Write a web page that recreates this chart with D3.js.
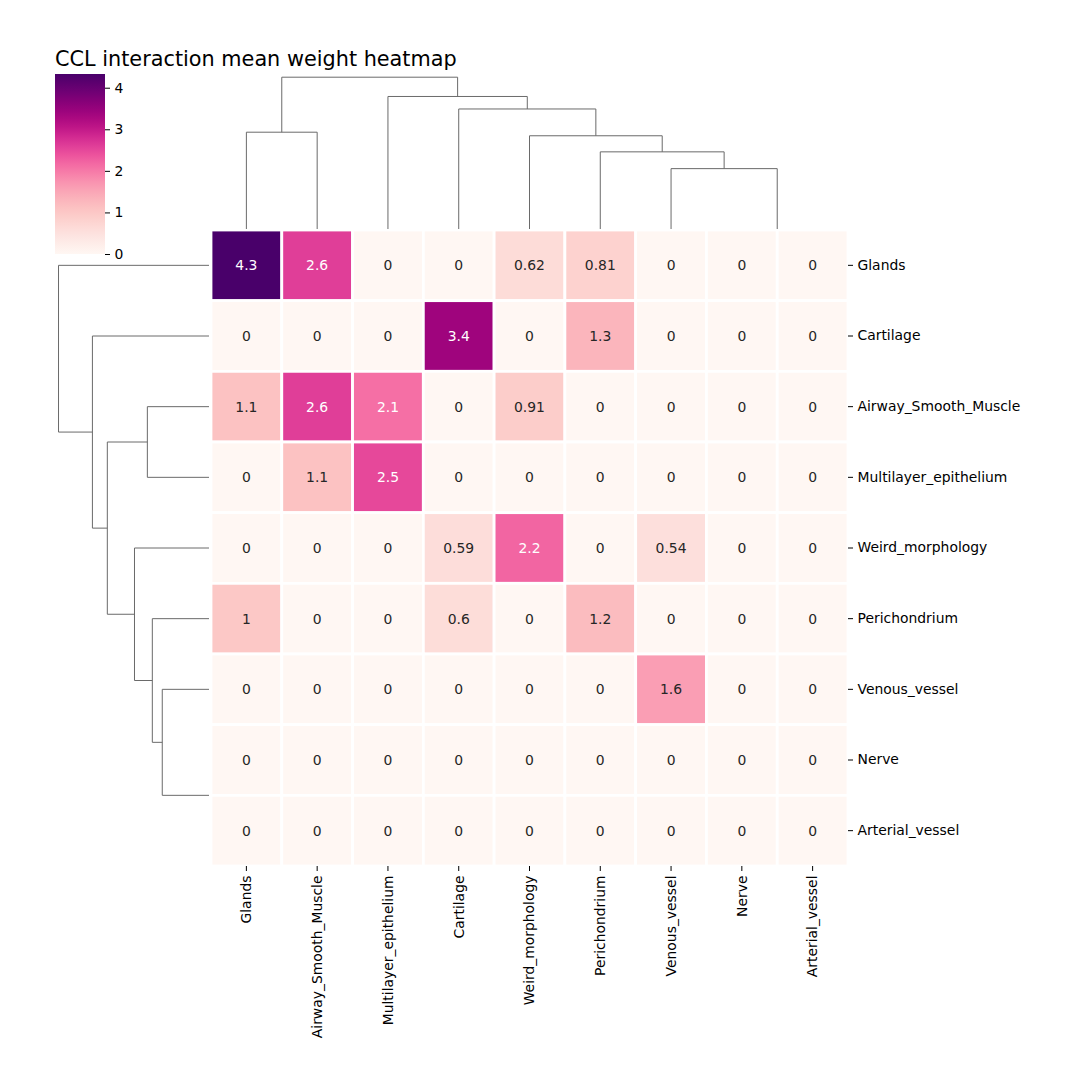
<!DOCTYPE html>
<html><head><meta charset="utf-8">
<script src="https://cdn.jsdelivr.net/npm/d3@7"></script>
<style>body{margin:0;background:#fff}svg{display:block;font-family:"DejaVu Sans",sans-serif}</style>
</head><body><svg id="c" width="1069" height="1089"></svg>
<script>
const title = "CCL interaction mean weight heatmap";
const rowLabels = ["Glands","Cartilage","Airway_Smooth_Muscle","Multilayer_epithelium","Weird_morphology","Perichondrium","Venous_vessel","Nerve","Arterial_vessel"];
const colLabels = ["Glands","Airway_Smooth_Muscle","Multilayer_epithelium","Cartilage","Weird_morphology","Perichondrium","Venous_vessel","Nerve","Arterial_vessel"];
const values = [
 [4.33,2.6,0,0,0.62,0.81,0,0,0],
 [0,0,0,3.4,0,1.3,0,0,0],
 [1.1,2.6,2.1,0,0.91,0,0,0,0],
 [0,1.1,2.5,0,0,0,0,0,0],
 [0,0,0,0.59,2.2,0,0.54,0,0],
 [1.0,0,0,0.6,0,1.2,0,0,0],
 [0,0,0,0,0,0,1.6,0,0],
 [0,0,0,0,0,0,0,0,0],
 [0,0,0,0,0,0,0,0,0]];
const colorbarTicks = [0,1,2,3,4];
// linkage: [childA, childB, height]; leaves 0..8 in display order, new nodes numbered from 9
const rowLinkage = [[7,8,0],[6,9,1.60],[5,10,1.94],[2,3,2.11],[4,11,2.55],[12,13,3.48],[1,14,3.99],[0,15,5.15]];
const colLinkage = [[7,8,0],[6,9,1.69],[5,10,2.16],[4,11,2.61],[0,1,2.71],[3,12,3.36],[2,14,3.71],[13,15,4.25]];

const svg = d3.select("#c");
const X0 = 211, X1 = 848, Y0 = 230, Y1 = 866;
const vmax = d3.max(values.flat());
const x = d3.scaleBand().domain(d3.range(colLabels.length)).range([X0, X1]);
const y = d3.scaleBand().domain(d3.range(rowLabels.length)).range([Y0, Y1]);
const color = d3.scaleSequential(d3.interpolateRdPu).domain([0, vmax]);
const fmt = d3.format(".2~g");

function lum(c){
  const r = d3.rgb(c);
  const f = v => { v/=255; return v <= 0.03928 ? v/12.92 : Math.pow((v+0.055)/1.055, 2.4); };
  return 0.2126*f(r.r) + 0.7152*f(r.g) + 0.0722*f(r.b);
}

// cells
const cells = [];
values.forEach((row, i) => row.forEach((v, j) => cells.push({i, j, v})));
svg.append("g").selectAll("rect").data(cells).join("rect")
  .attr("x", d => x(d.j)).attr("y", d => y(d.i))
  .attr("width", x.bandwidth()).attr("height", y.bandwidth())
  .attr("fill", d => color(d.v)).attr("stroke", "#fff").attr("stroke-width", 2.8);
svg.append("g").selectAll("text").data(cells).join("text")
  .attr("x", d => x(d.j) + x.bandwidth()/2).attr("y", d => y(d.i) + y.bandwidth()/2)
  .attr("dy", "0.36em").attr("text-anchor", "middle").attr("font-size", "13.9px")
  .attr("fill", d => lum(color(d.v)) > 0.408 ? "#262626" : "#ffffff")
  .text(d => fmt(d.v));

// axes
const rowAxis = svg.append("g").attr("transform", `translate(${X1},0)`)
  .call(d3.axisRight(y).tickSize(5).tickPadding(4.5).tickFormat(i => rowLabels[i]));
rowAxis.select(".domain").remove();
rowAxis.selectAll("text").attr("font-size", "13.9px").attr("font-family", "DejaVu Sans").attr("fill", "#000");
rowAxis.selectAll("line").attr("stroke", "#000").attr("stroke-width", 1);

const colAxis = svg.append("g").attr("transform", `translate(0,${Y1})`)
  .call(d3.axisBottom(x).tickSize(5).tickPadding(4.5).tickFormat(j => colLabels[j]));
colAxis.select(".domain").remove();
colAxis.selectAll("text").attr("font-size", "13.9px").attr("font-family", "DejaVu Sans").attr("fill", "#000")
  .attr("transform", "rotate(-90)").attr("x", -9.5).attr("y", 0).attr("dy", "0.35em").attr("text-anchor", "end");
colAxis.selectAll("line").attr("stroke", "#000").attr("stroke-width", 1);

// dendrograms
function dendroSegs(linkage, n, leafPos){
  const pos = d3.range(n).map(leafPos), hgt = d3.range(n).map(() => 0);
  const segs = [];
  linkage.forEach(([a, b, h]) => {
    segs.push({p1: pos[a], h1: hgt[a], p2: pos[b], h2: hgt[b], h});
    pos.push((pos[a] + pos[b]) / 2); hgt.push(h);
  });
  return segs.filter(s => s.h > 0); // zero-height merges sit on the axis edge and are not visible
}
const lineColor = "#6a6a6a";
// column dendrogram (top)
const colH = d3.scaleLinear().domain([0, d3.max(colLinkage, d => d[2]) * 1.05]).range([229, 69.6]);
svg.append("g").selectAll("path")
  .data(dendroSegs(colLinkage, colLabels.length, j => x(j) + x.bandwidth()/2)).join("path")
  .attr("d", s => `M${s.p1},${colH(s.h1)}V${colH(s.h)}H${s.p2}V${colH(s.h2)}`)
  .attr("fill", "none").attr("stroke", lineColor).attr("stroke-width", 1);
// row dendrogram (left)
const rowH = d3.scaleLinear().domain([0, d3.max(rowLinkage, d => d[2]) * 1.05]).range([209, 51]);
svg.append("g").selectAll("path")
  .data(dendroSegs(rowLinkage, rowLabels.length, i => y(i) + y.bandwidth()/2)).join("path")
  .attr("d", s => `M${rowH(s.h1)},${s.p1}H${rowH(s.h)}V${s.p2}H${rowH(s.h2)}`)
  .attr("fill", "none").attr("stroke", lineColor).attr("stroke-width", 1);

// colorbar
const cb = d3.scaleLinear().domain([0, vmax]).range([254, 74]);
const defs = svg.append("defs");
const grad = defs.append("linearGradient").attr("id", "cbg").attr("x1", 0).attr("y1", 1).attr("x2", 0).attr("y2", 0);
d3.range(0, 1.0001, 0.05).forEach(t => grad.append("stop").attr("offset", t).attr("stop-color", d3.interpolateRdPu(t)));
svg.append("rect").attr("x", 55).attr("y", cb(vmax)).attr("width", 50).attr("height", cb(0) - cb(vmax)).attr("fill", "url(#cbg)");
const cbAxis = svg.append("g").attr("transform", "translate(105,0)")
  .call(d3.axisRight(cb).tickValues(colorbarTicks).tickSize(5).tickPadding(4.5).tickFormat(d3.format("d")));
cbAxis.select(".domain").remove();
cbAxis.selectAll("text").attr("font-size", "13.9px").attr("font-family", "DejaVu Sans").attr("fill", "#000");

// title
svg.append("text").attr("x", 55).attr("y", 66).attr("font-size", "20.8px").attr("fill", "#000").text(title);
</script></body></html>
